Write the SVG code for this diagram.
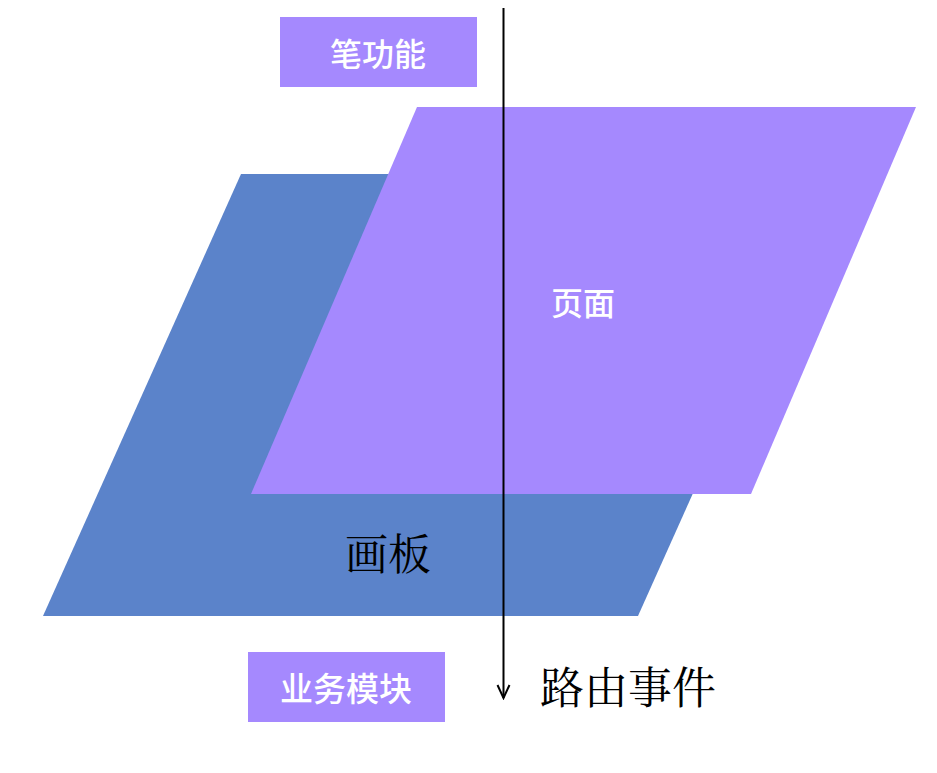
<svg xmlns="http://www.w3.org/2000/svg" width="937" height="773" viewBox="0 0 937 773">
<style>
.lbl{fill:#a589fe}
.wt{fill:#ffffff;font-family:"Noto Sans CJK SC","Noto Sans",sans-serif;text-anchor:middle;dominant-baseline:central;font-weight:500}
.bk{fill:#000000;font-family:"Noto Serif CJK SC","Liberation Serif","Noto Sans CJK SC",serif}
</style>
<defs>
<marker id="arr" markerWidth="16" markerHeight="16" refX="14" refY="7" orient="auto" markerUnits="userSpaceOnUse" viewBox="0 0 16 14">
<path d="M1,1 L14,7 L1,13" fill="none" stroke="#000" stroke-width="2"/>
</marker>
</defs>
<rect width="937" height="773" fill="#ffffff"/>
<g id="huaban">
<polygon points="241,174 836,174 638,616 43,616" fill="#5b83ca"/>
<text class="bk" x="345" y="570" font-size="43">画板</text>
</g>
<g id="yemian">
<polygon points="417,107 916,107 751,494 251,494" fill="#a589fe"/>
<text class="wt" x="583" y="301" font-size="32">页面</text>
</g>
<g id="bigongneng">
<rect class="lbl" x="280" y="17" width="197" height="70"/>
<text class="wt" x="378" y="52" font-size="32">笔功能</text>
</g>
<g id="yewumokuai">
<rect class="lbl" x="248" y="652" width="197" height="70"/>
<text class="wt" x="346" y="687" font-size="33">业务模块</text>
</g>
<g id="luyoushijian">
<text class="bk" x="540" y="704" font-size="44">路由事件</text>
</g>
<g id="connectors">
<line x1="503.5" y1="8" x2="503.5" y2="698" stroke="#000" stroke-width="2" marker-end="url(#arr)"/>
</g>
</svg>
